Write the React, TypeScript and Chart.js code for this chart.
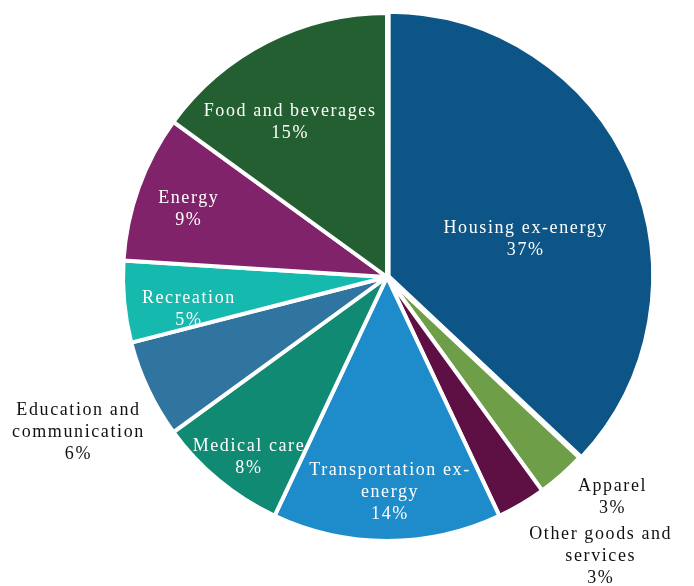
import React, { useEffect, useRef } from "react";
import { Chart, registerables } from "chart.js";

Chart.register(...registerables);

const categories = [
  "Housing ex-energy",
  "Apparel",
  "Other goods and services",
  "Transportation ex-energy",
  "Medical care",
  "Education and communication",
  "Recreation",
  "Energy",
  "Food and beverages",
];
const shares = [37, 3, 3, 14, 8, 6, 5, 9, 15];
const labelLines = [
  ["Housing ex-energy"],
  ["Apparel"],
  ["Other goods and", "services"],
  ["Transportation ex-", "energy"],
  ["Medical care"],
  ["Education and", "communication"],
  ["Recreation"],
  ["Energy"],
  ["Food and beverages"],
];
const colors = [
  "#0E5587",
  "#6E9F48",
  "#5E1044",
  "#1E8BCB",
  "#118A74",
  "#2F759F",
  "#16B9AE",
  "#81236A",
  "#235F30",
];
// label placement: fraction of radius along mid-angle, plus nudge
const labelFrac = [0.56, 1.2, 1.33, 0.81, 0.85, 1.3, 0.75, 0.79, 0.7];
const labelNudge = [
  [3, 21],
  [16, -17],
  [35, -23],
  [3, 1],
  [5, 7],
  [2, 9],
  [-1, 14],
  [-2, 3],
  [-13, 10],
];
const labelInside = [true, false, false, true, true, false, true, true, true];

const labelPlugin = {
  id: "sliceLabels",
  afterDatasetsDraw(chart: any) {
    const ctx = chart.ctx;
    const meta = chart.getDatasetMeta(0);
    ctx.save();
    ctx.font = '18px "Liberation Serif", serif';
    try {
      (ctx as any).letterSpacing = "1.6px";
    } catch (e) {}
    ctx.textAlign = "center";
    ctx.textBaseline = "middle";
    meta.data.forEach((arc: any, i: number) => {
      const p = arc.getProps(["x", "y", "startAngle", "endAngle", "outerRadius"], true);
      const mid = (p.startAngle + p.endAngle) / 2;
      const r = p.outerRadius * labelFrac[i];
      const cx = p.x + Math.cos(mid) * r + labelNudge[i][0];
      const cy = p.y + Math.sin(mid) * r + labelNudge[i][1];
      const lines = [...labelLines[i], shares[i] + "%"];
      const lh = 22;
      const y0 = cy - ((lines.length - 1) * lh) / 2;
      ctx.fillStyle = labelInside[i] ? "#ffffff" : "#111111";
      lines.forEach((t, k) => ctx.fillText(t, cx, y0 + k * lh));
    });
    ctx.restore();
  },
};

export default function App() {
  const ref = useRef<HTMLCanvasElement>(null);
  useEffect(() => {
    document.body.style.margin = "0";
    const chart = new Chart(ref.current!, {
      type: "pie",
      data: {
        labels: categories,
        datasets: [
          {
            data: shares,
            backgroundColor: colors,
            borderColor: "#ffffff",
            borderWidth: 4,
            offset: [7, 0, 0, 0, 0, 0, 0, 0, 0],
          },
        ],
      },
      options: {
        animation: false,
        responsive: false,
        radius: 264,
        layout: { padding: { left: 123, right: 43, top: 13, bottom: 45 } },
        plugins: {
          legend: { display: false },
          tooltip: { enabled: false },
        },
      },
      plugins: [labelPlugin],
    });
    return () => chart.destroy();
  }, []);
  return (
    <div style={{ width: 694, height: 586 }}>
      <canvas ref={ref} width={694} height={586} />
    </div>
  );
}
